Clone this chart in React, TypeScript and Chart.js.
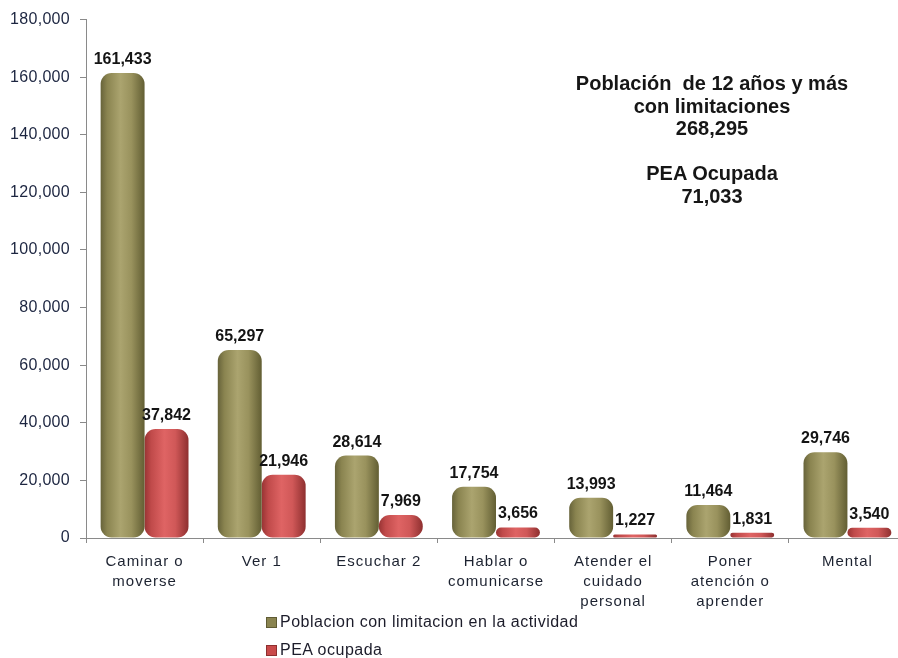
import React, { useEffect, useRef } from "react";
import { Chart, registerables } from "chart.js";

Chart.register(...registerables);

const categories: string[][] = [
  ["Caminar o", "moverse"],
  ["Ver 1"],
  ["Escuchar 2"],
  ["Hablar o", "comunicarse"],
  ["Atender el", "cuidado", "personal"],
  ["Poner", "atención o", "aprender"],
  ["Mental"],
];
const poblacionValues = [161433, 65297, 28614, 17754, 13993, 11464, 29746];
const peaValues = [37842, 21946, 7969, 3656, 1227, 1831, 3540];
const seriesNames = ["Poblacion con limitacion en la actividad", "PEA ocupada"];
const yMax = 180000;
const yStep = 20000;
const annotationLines = [
  "Población  de 12 años y más",
  "con limitaciones",
  "268,295",
  "",
  "PEA Ocupada",
  "71,033",
];

const FONT = "'Liberation Sans', Arial, sans-serif";
const CAT_PCT = 0.75;

const fmt = (v: number) => v.toLocaleString("en-US");

function gradientFor(ctx: any, stops: [number, string][]) {
  const chart = ctx.chart;
  const xs = chart.scales?.x;
  const fallback = stops[2][1];
  if (!xs || ctx.dataIndex === undefined) return fallback;
  const catW = xs.width / categories.length;
  const barW = (catW * CAT_PCT) / 2;
  const center = xs.getPixelForValue(ctx.dataIndex);
  const left = ctx.datasetIndex === 0 ? center - barW : center;
  if (!isFinite(left) || !isFinite(barW) || barW <= 0) return fallback;
  const g = chart.ctx.createLinearGradient(left, 0, left + barW, 0);
  stops.forEach(([o, c]) => g.addColorStop(o, c));
  return g;
}

const oliveStops: [number, string][] = [
  [0, "#67633a"],
  [0.15, "#8a8450"],
  [0.45, "#aba46f"],
  [0.7, "#99925d"],
  [1, "#625e33"],
];
const redStops: [number, string][] = [
  [0, "#983434"],
  [0.15, "#c04a4a"],
  [0.45, "#df6464"],
  [0.7, "#d05858"],
  [1, "#8e2f2f"],
];

const spacingPlugin = {
  id: "spacing",
  beforeDraw(chart: any) {
    (chart.ctx as any).letterSpacing = "0.3px";
  },
  afterDraw(chart: any) {
    (chart.ctx as any).letterSpacing = "0px";
  },
};

const dataLabelPlugin = {
  id: "dataLabels",
  afterDatasetsDraw(chart: any) {
    const ctx = chart.ctx;
    ctx.save();
    (ctx as any).letterSpacing = "0px";
    ctx.font = `bold 16px ${FONT}`;
    ctx.fillStyle = "#141414";
    ctx.textAlign = "center";
    ctx.textBaseline = "alphabetic";
    chart.data.datasets.forEach((ds: any, di: number) => {
      const meta = chart.getDatasetMeta(di);
      meta.data.forEach((el: any, i: number) => {
        ctx.fillText(fmt(ds.data[i]), el.x, el.y - 9);
      });
    });
    ctx.restore();
    // x-axis category labels are drawn after this (ticks z = 1)
    (ctx as any).letterSpacing = "1px";
  },
};

export default function App() {
  const canvasRef = useRef<HTMLCanvasElement>(null);

  useEffect(() => {
    if (!canvasRef.current) return;
    const chart = new Chart(canvasRef.current, {
      type: "bar",
      data: {
        labels: categories,
        datasets: [
          {
            label: seriesNames[0],
            data: poblacionValues,
            backgroundColor: (c: any) => gradientFor(c, oliveStops),
            borderRadius: 11,
            borderSkipped: false,
            borderWidth: 0,
            categoryPercentage: CAT_PCT,
            barPercentage: 1,
          },
          {
            label: seriesNames[1],
            data: peaValues,
            backgroundColor: (c: any) => gradientFor(c, redStops),
            borderRadius: 11,
            borderSkipped: false,
            borderWidth: 0,
            categoryPercentage: CAT_PCT,
            barPercentage: 1,
          },
        ],
      },
      options: {
        responsive: false,
        animation: false,
        layout: { padding: { top: 19, right: 4, left: 0, bottom: 0 } },
        plugins: {
          legend: { display: false },
          tooltip: { enabled: false },
          title: { display: false },
        },
        scales: {
          x: {
            afterFit: (s: any) => {
              s.height = 120;
            },
            grid: {
              display: true,
              drawOnChartArea: false,
              drawTicks: true,
              tickLength: 5,
              color: "#8a8a8a",
              offset: true,
            },
            border: { color: "#8a8a8a", width: 1 },
            ticks: {
              z: 1,
              color: "#1c2230",
              font: { family: FONT, size: 15, lineHeight: 1.333 },
              padding: 9,
              maxRotation: 0,
              autoSkip: false,
            },
          },
          y: {
            min: 0,
            max: yMax,
            afterFit: (s: any) => {
              s.width = 86;
            },
            grid: {
              display: true,
              drawOnChartArea: false,
              drawTicks: true,
              tickLength: 6,
              color: "#8a8a8a",
            },
            border: { color: "#8a8a8a", width: 1 },
            ticks: {
              stepSize: yStep,
              color: "#1c2540",
              font: { family: FONT, size: 16 },
              padding: 10,
              callback: (v: any) => fmt(Number(v)),
            },
          },
        },
      },
      plugins: [spacingPlugin, dataLabelPlugin],
    } as any);
    return () => chart.destroy();
  }, []);

  return (
    <div
      style={{
        position: "absolute",
        left: 0,
        top: 0,
        width: 898,
        height: 658,
        overflow: "hidden",
        background: "#ffffff",
      }}
    >
      <canvas
        ref={canvasRef}
        width={910}
        height={658}
        style={{ position: "absolute", left: 0, top: 0, width: 910, height: 658 }}
      />
      <div
        style={{
          position: "absolute",
          left: 562,
          top: 72,
          width: 300,
          textAlign: "center",
          fontFamily: FONT,
          fontWeight: "bold",
          fontSize: 20,
          lineHeight: "22.5px",
          color: "#161616",
          whiteSpace: "pre",
        }}
      >
        {annotationLines.map((l, i) => (
          <div key={i} style={{ height: 22.5 }}>
            {l}
          </div>
        ))}
      </div>
      <div
        style={{
          position: "absolute",
          left: 266,
          top: 608,
          fontFamily: FONT,
          fontSize: 16,
          letterSpacing: "0.5px",
          color: "#1c1c2a",
        }}
      >
        {seriesNames.map((n, i) => (
          <div key={n} style={{ display: "flex", alignItems: "center", height: 28 }}>
            <span
              style={{
                display: "inline-block",
                width: 9,
                height: 9,
                marginRight: 3,
                background: i === 0 ? "#8a8450" : "#c94a4a",
                border: "1px solid " + (i === 0 ? "#5f5b33" : "#8e2f2f"),
              }}
            />
            {n}
          </div>
        ))}
      </div>
    </div>
  );
}
